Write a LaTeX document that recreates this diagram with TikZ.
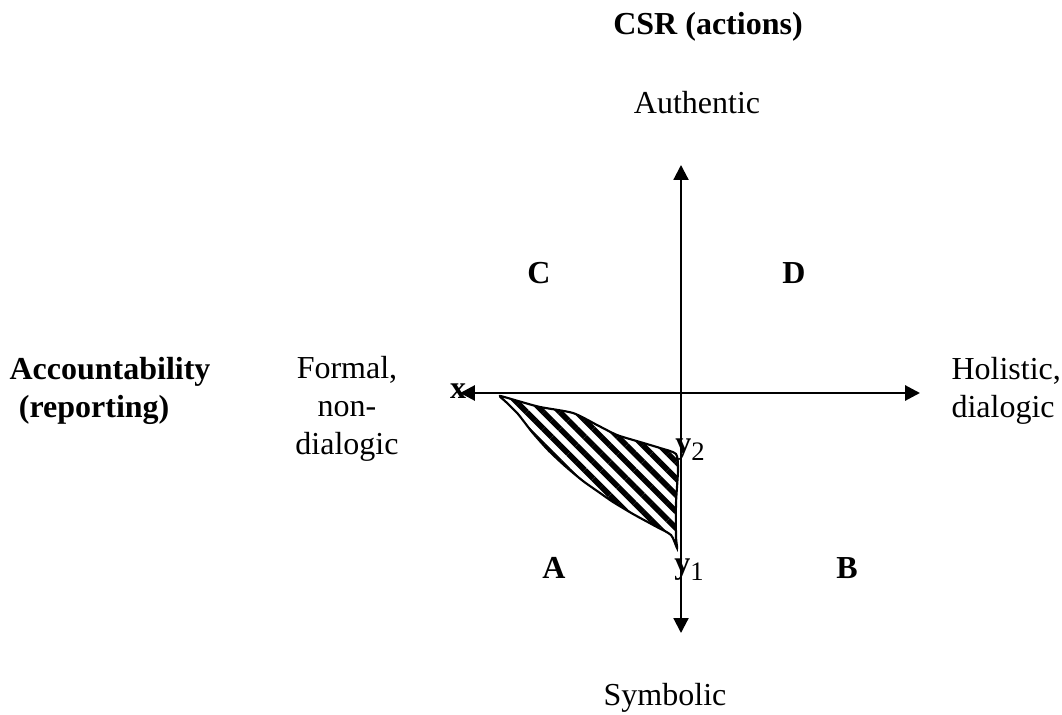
\documentclass[tikz,border=0pt]{standalone}
\usepackage{fontspec}
\setmainfont{Liberation Serif}
\usetikzlibrary{arrows.meta,patterns.meta}
\tikzset{
  lbl/.style={font=\fontsize{12}{14.2}\selectfont,inner sep=0pt,align=center},
  blbl/.style={lbl,font=\fontsize{12}{14.2}\selectfont\bfseries},
  axarr/.style={{Triangle[length=5.6pt,width=5.6pt]}-{Triangle[length=5.6pt,width=5.6pt]},line width=0.8pt},
  zone/.style={draw,line width=0.8pt,pattern={Lines[angle=-45,distance=4.4pt,line width=2.1pt]}},
}
\newcommand\yidx[1]{\textbf{y}{\fontsize{10}{10}\selectfont\raisebox{-2.6pt}{#1}}}
\begin{document}
\begin{tikzpicture}[x=0.375pt,y=-0.375pt]
\useasboundingbox (0,0) rectangle (1062,715);
% axes
\coordinate (top) at (681,165);
\coordinate (bot) at (681,633);
\coordinate (lft) at (460,393);
\coordinate (rgt) at (920,393);
\draw[axarr] (bot) -- (top);
\draw[axarr,line width=1.1pt] (lft) -- (rgt);
% shaded zone
\draw[zone] plot[smooth cycle,tension=0.4] coordinates {
  (500,396) (518,401) (540,407) (573,413) (597,425) (617,435) (640,442)
  (660,448) (676,454) (678,470) (676,503) (676,537) (677,548)
  (671,535) (655,526) (633,514) (613,502) (600,493) (583,481)
  (565,466) (548,450) (532,432) (518,414) (506,402)};
% labels
\node[blbl] (csr) at (708,27) {CSR (actions)};
\node[lbl] (auth) at (697,103) {Authentic};
\node[lbl] (symb) at (665,698) {Symbolic};
\node[blbl,align=left] (acc) at (110,391) {Accountability\\\hspace*{3.5pt}(reporting)};
\node[lbl] (form) at (347,409) {Formal,\\non-\\dialogic};
\node[lbl,align=left,anchor=west] (holi) at (951,391) {Holistic,\\dialogic};
\node[blbl] (qc) at (539,273) {C};
\node[blbl] (qd) at (794,273) {D};
\node[blbl] (qa) at (554,568) {A};
\node[blbl] (qb) at (847,568) {B};
\node[blbl] (xl) at (458,391) {x};
\node[lbl] (y2) at (690,450) {\yidx{2}};
\node[lbl] (y1) at (689,570) {\yidx{1}};
\end{tikzpicture}
\end{document}
